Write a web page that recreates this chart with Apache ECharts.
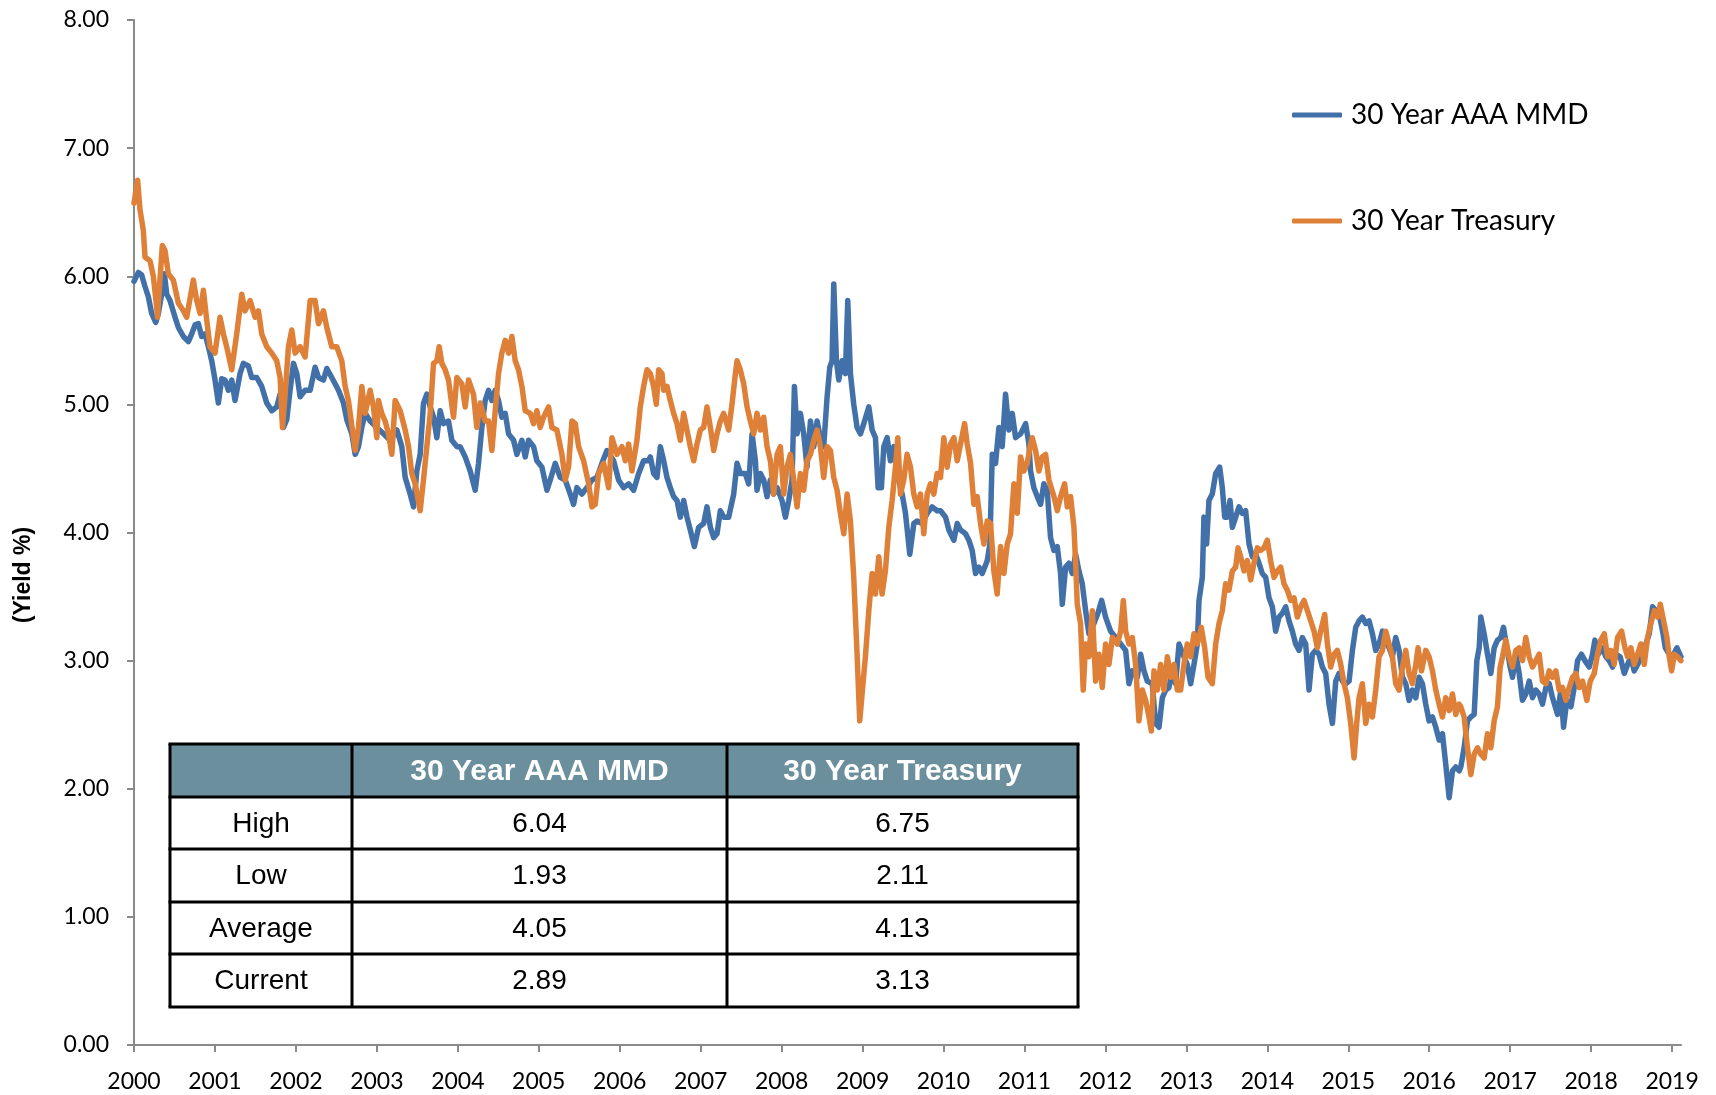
<!DOCTYPE html>
<html>

<head>
    <meta charset="utf-8">
    <title>30 Year AAA MMD vs 30 Year Treasury</title>
    <style>
        html, body { margin: 0; padding: 0; background: #fff; }
    </style>
</head>

<body>

    <div id="chart" style="width: 1716px;height: 1095px;"></div>

    <script src="https://cdn.jsdelivr.net/npm/echarts@6/dist/echarts.min.js"></script>
    <script>
        // series names
        const seriesNames = ['30 Year AAA MMD', '30 Year Treasury'];

        // x tick labels (years)
        const yearTicks = [2000, 2001, 2002, 2003, 2004, 2005, 2006, 2007, 2008, 2009,
            2010, 2011, 2012, 2013, 2014, 2015, 2016, 2017, 2018, 2019];

        // 30 Year AAA MMD, [year, yield %]
        const mmdData = [
            [2000.00, 5.96], [2000.054, 6.03], [2000.095, 6.01], [2000.136, 5.92], [2000.177, 5.84], [2000.218, 5.71], [2000.268, 5.64], [2000.301, 5.71], [2000.342, 5.86], [2000.375, 6.02], [2000.404, 5.86], [2000.445, 5.81], [2000.507, 5.68], [2000.548, 5.60], [2000.610, 5.53], [2000.672, 5.49], [2000.713, 5.55], [2000.754, 5.62], [2000.795, 5.63], [2000.836, 5.53], [2000.878, 5.55], [2000.919, 5.45], [2000.960, 5.34], [2001.001, 5.19], [2001.042, 5.01], [2001.084, 5.20], [2001.125, 5.19], [2001.166, 5.11], [2001.207, 5.19], [2001.248, 5.03], [2001.310, 5.24], [2001.351, 5.32], [2001.413, 5.30], [2001.454, 5.21], [2001.516, 5.21], [2001.578, 5.14], [2001.640, 5.01], [2001.702, 4.95], [2001.763, 4.98], [2001.805, 5.08], [2001.846, 4.82], [2001.887, 4.88], [2001.928, 5.11], [2001.970, 5.32], [2002.011, 5.24], [2002.052, 5.06], [2002.114, 5.11], [2002.176, 5.11], [2002.237, 5.29], [2002.279, 5.21], [2002.340, 5.19], [2002.382, 5.28], [2002.443, 5.21], [2002.526, 5.11], [2002.588, 5.01], [2002.629, 4.88], [2002.691, 4.77], [2002.732, 4.61], [2002.773, 4.67], [2002.814, 4.82], [2002.855, 4.93],
            [2002.917, 4.87], [2003.000, 4.82], [2003.082, 4.77], [2003.164, 4.72], [2003.247, 4.80], [2003.308, 4.67], [2003.350, 4.43], [2003.411, 4.30], [2003.453, 4.20], [2003.494, 4.48], [2003.535, 4.61], [2003.576, 5.01], [2003.617, 5.08], [2003.659, 4.98], [2003.700, 4.90], [2003.741, 4.74], [2003.782, 4.95], [2003.823, 4.85], [2003.885, 4.87], [2003.926, 4.72], [2003.988, 4.67], [2004.029, 4.67], [2004.091, 4.59], [2004.153, 4.48], [2004.215, 4.33], [2004.256, 4.54], [2004.297, 4.82], [2004.338, 5.03], [2004.380, 5.11], [2004.421, 5.03], [2004.462, 5.11], [2004.503, 5.03], [2004.544, 4.90], [2004.586, 4.93], [2004.627, 4.77], [2004.689, 4.72], [2004.730, 4.61], [2004.792, 4.72], [2004.833, 4.59], [2004.874, 4.72], [2004.936, 4.67], [2004.977, 4.56], [2005.039, 4.51], [2005.101, 4.33], [2005.142, 4.41], [2005.204, 4.54], [2005.265, 4.43], [2005.327, 4.41], [2005.389, 4.30], [2005.430, 4.22], [2005.471, 4.35], [2005.533, 4.30], [2005.595, 4.35], [2005.657, 4.41], [2005.719, 4.43], [2005.780, 4.54], [2005.842, 4.64], [2005.925, 4.56], [2005.986, 4.41], [2006.048, 4.35], [2006.110, 4.38], [2006.172, 4.33], [2006.234, 4.46], [2006.295, 4.56], [2006.357, 4.56],
            [2006.378, 4.59], [2006.419, 4.46], [2006.460, 4.43], [2006.502, 4.67], [2006.543, 4.56], [2006.584, 4.43], [2006.625, 4.35], [2006.666, 4.28], [2006.708, 4.25], [2006.749, 4.12], [2006.790, 4.25], [2006.831, 4.12], [2006.872, 4.02], [2006.922, 3.89], [2006.975, 4.04], [2007.037, 4.07], [2007.078, 4.20], [2007.120, 4.04], [2007.161, 3.96], [2007.202, 3.99], [2007.243, 4.17], [2007.284, 4.12], [2007.346, 4.12], [2007.408, 4.30], [2007.449, 4.54], [2007.490, 4.46], [2007.552, 4.46], [2007.593, 4.38], [2007.635, 4.77], [2007.676, 4.56], [2007.696, 4.33], [2007.738, 4.46], [2007.779, 4.41], [2007.820, 4.28], [2007.861, 4.41], [2007.902, 4.30], [2007.944, 4.35], [2008.005, 4.25], [2008.047, 4.12], [2008.088, 4.25], [2008.129, 4.41], [2008.158, 5.14], [2008.191, 4.77], [2008.232, 4.93], [2008.273, 4.77], [2008.314, 4.51], [2008.356, 4.87], [2008.397, 4.67], [2008.438, 4.87], [2008.479, 4.74], [2008.520, 4.67], [2008.562, 5.06], [2008.595, 5.29], [2008.623, 5.34], [2008.644, 5.94], [2008.677, 5.34], [2008.706, 5.19], [2008.747, 5.34], [2008.788, 5.24], [2008.817, 5.81], [2008.850, 5.24], [2008.891, 5.00], [2008.932, 4.82], [2008.974, 4.77], [2009.015, 4.85], [2009.077, 4.98], [2009.118, 4.80], [2009.159, 4.74], [2009.192, 4.35], [2009.233, 4.35], [2009.262, 4.67], [2009.303, 4.74], [2009.344, 4.56], [2009.386, 4.67], [2009.427, 4.46], [2009.489, 4.30], [2009.530, 4.15], [2009.583, 3.83], [2009.633, 4.07], [2009.674, 4.09], [2009.736, 4.07], [2009.798, 4.15], [2009.859, 4.20], [2009.921, 4.17],
            [2009.963, 4.17], [2010.025, 4.12], [2010.066, 4.02], [2010.128, 3.94], [2010.169, 4.07], [2010.210, 4.02], [2010.272, 3.99], [2010.313, 3.94], [2010.354, 3.86], [2010.396, 3.68], [2010.437, 3.73], [2010.478, 3.68], [2010.540, 3.78], [2010.573, 3.91], [2010.602, 4.61], [2010.643, 4.54], [2010.684, 4.82], [2010.725, 4.67], [2010.766, 5.08], [2010.808, 4.80], [2010.849, 4.93], [2010.890, 4.74], [2010.952, 4.77], [2011.014, 4.85], [2011.055, 4.69], [2011.075, 4.48], [2011.116, 4.35], [2011.158, 4.28], [2011.199, 4.22], [2011.240, 4.38], [2011.281, 4.33], [2011.322, 3.96], [2011.364, 3.86], [2011.405, 3.89], [2011.446, 3.68], [2011.467, 3.44], [2011.508, 3.73], [2011.549, 3.76], [2011.590, 3.68], [2011.632, 3.83], [2011.673, 3.70], [2011.714, 3.60], [2011.755, 3.39], [2011.796, 3.21], [2011.858, 3.29], [2011.907, 3.37], [2011.953, 3.47], [2012.002, 3.34], [2012.064, 3.23], [2012.126, 3.18], [2012.188, 3.13], [2012.250, 3.08], [2012.291, 2.82], [2012.332, 2.92], [2012.394, 2.87], [2012.435, 3.05], [2012.476, 2.92], [2012.517, 2.84], [2012.579, 2.82], [2012.620, 2.51], [2012.662, 2.48], [2012.703, 2.71], [2012.744, 2.77], [2012.785, 2.79], [2012.826, 2.92], [2012.867, 2.82], [2012.909, 3.13],
            [2012.929, 3.13], [2012.970, 3.03], [2013.011, 2.97], [2013.053, 2.82], [2013.094, 2.97], [2013.135, 3.13], [2013.156, 3.47], [2013.197, 3.65], [2013.217, 4.12], [2013.250, 3.91], [2013.279, 4.25], [2013.320, 4.30], [2013.362, 4.46], [2013.411, 4.51], [2013.444, 4.35], [2013.473, 4.12], [2013.506, 4.12], [2013.539, 4.25], [2013.568, 4.04], [2013.609, 4.12], [2013.650, 4.20], [2013.691, 4.15], [2013.732, 4.17], [2013.774, 3.91], [2013.815, 3.81], [2013.856, 3.83], [2013.897, 3.76], [2013.938, 3.68], [2013.980, 3.65], [2014.021, 3.49], [2014.062, 3.42], [2014.103, 3.23], [2014.144, 3.34], [2014.186, 3.37], [2014.227, 3.42], [2014.268, 3.31], [2014.309, 3.23], [2014.350, 3.13], [2014.392, 3.08], [2014.433, 3.18], [2014.474, 3.13], [2014.515, 2.77], [2014.556, 3.05], [2014.598, 3.08], [2014.639, 3.05], [2014.680, 2.95], [2014.721, 2.90], [2014.762, 2.66], [2014.804, 2.51], [2014.845, 2.84], [2014.886, 2.90], [2014.927, 2.84], [2014.968, 2.82], [2015.010, 2.84], [2015.051, 3.08], [2015.092, 3.26], [2015.133, 3.31], [2015.174, 3.34], [2015.216, 3.29], [2015.257, 3.31], [2015.298, 3.21], [2015.339, 3.08], [2015.380, 3.13], [2015.422, 3.23], [2015.463, 3.18], [2015.504, 3.10], [2015.545, 3.03], [2015.586, 3.18], [2015.628, 3.08], [2015.669, 2.87], [2015.710, 2.82], [2015.751, 2.69], [2015.792, 2.77], [2015.834, 2.71], [2015.875, 2.87], [2015.916, 2.82], [2015.957, 2.66], [2015.998, 2.53], [2016.040, 2.56], [2016.081, 2.48], [2016.122, 2.38], [2016.163, 2.43], [2016.204, 2.19], [2016.246, 1.93], [2016.287, 2.14], [2016.328, 2.17], [2016.369, 2.14],
            [2016.390, 2.17], [2016.431, 2.32], [2016.472, 2.53], [2016.514, 2.56], [2016.555, 2.58], [2016.588, 3.00], [2016.617, 3.10], [2016.637, 3.34], [2016.678, 3.21], [2016.720, 3.05], [2016.761, 2.90], [2016.802, 3.10], [2016.843, 3.16], [2016.884, 3.18], [2016.917, 3.26], [2016.959, 3.10], [2017.000, 2.95], [2017.029, 2.87], [2017.070, 3.05], [2017.111, 2.90], [2017.152, 2.69], [2017.193, 2.74], [2017.235, 2.84], [2017.276, 2.71], [2017.317, 2.77], [2017.358, 2.74], [2017.399, 2.66], [2017.441, 2.79], [2017.482, 2.82], [2017.523, 2.71], [2017.585, 2.58], [2017.626, 2.77], [2017.659, 2.48], [2017.700, 2.69], [2017.750, 2.64], [2017.791, 2.79], [2017.832, 3.00], [2017.881, 3.05], [2017.923, 3.00], [2017.976, 2.95], [2018.017, 3.05], [2018.046, 3.16], [2018.087, 3.05], [2018.141, 3.10], [2018.182, 3.03], [2018.223, 3.00], [2018.265, 2.95], [2018.306, 3.05], [2018.359, 3.03], [2018.409, 2.90], [2018.450, 2.97], [2018.491, 3.03], [2018.532, 2.92], [2018.574, 2.97], [2018.635, 3.05], [2018.677, 3.13], [2018.718, 3.21], [2018.759, 3.42], [2018.800, 3.39], [2018.841, 3.36], [2018.883, 3.23], [2018.916, 3.10], [2018.965, 3.05], [2019.006, 3.03], [2019.060, 3.10], [2019.109, 3.03]
        ];

        // 30 Year Treasury, [year, yield %]
        const tsyData = [
            [2000.00, 6.57], [2000.045, 6.75], [2000.074, 6.52], [2000.115, 6.36], [2000.136, 6.15], [2000.198, 6.12], [2000.239, 6.00], [2000.280, 5.76], [2000.290, 5.68], [2000.301, 5.79], [2000.350, 6.24], [2000.383, 6.20], [2000.424, 6.02], [2000.486, 5.97], [2000.548, 5.79], [2000.610, 5.73], [2000.651, 5.68], [2000.733, 5.97], [2000.775, 5.81], [2000.816, 5.71], [2000.857, 5.89], [2000.898, 5.66], [2000.939, 5.45], [2001.001, 5.40], [2001.063, 5.68], [2001.104, 5.55], [2001.145, 5.45], [2001.207, 5.27], [2001.269, 5.55], [2001.331, 5.86], [2001.372, 5.73], [2001.434, 5.81], [2001.496, 5.68], [2001.537, 5.73], [2001.578, 5.55], [2001.640, 5.45], [2001.702, 5.40], [2001.763, 5.34], [2001.805, 5.21], [2001.834, 4.82], [2001.867, 5.08], [2001.908, 5.45], [2001.949, 5.58], [2001.990, 5.40], [2002.052, 5.45], [2002.114, 5.37], [2002.176, 5.81], [2002.237, 5.81], [2002.279, 5.63], [2002.340, 5.73], [2002.382, 5.60], [2002.443, 5.45], [2002.505, 5.45], [2002.567, 5.34], [2002.608, 5.14], [2002.649, 5.03], [2002.732, 4.64], [2002.773, 4.82], [2002.814, 5.14], [2002.855, 4.93],
            [2002.917, 5.11], [2002.958, 4.98], [2003.000, 4.74], [2003.020, 5.03], [2003.061, 4.93], [2003.102, 4.87], [2003.144, 4.77], [2003.185, 4.61], [2003.226, 5.03], [2003.288, 4.95], [2003.350, 4.80], [2003.391, 4.67], [2003.432, 4.46], [2003.473, 4.38], [2003.535, 4.17], [2003.576, 4.41], [2003.617, 4.67], [2003.659, 4.93], [2003.700, 5.32], [2003.741, 5.34], [2003.770, 5.45], [2003.803, 5.32], [2003.844, 5.27], [2003.885, 5.19], [2003.947, 4.90], [2003.988, 5.21], [2004.050, 5.16], [2004.091, 4.98], [2004.132, 5.19], [2004.194, 5.08], [2004.235, 4.82], [2004.277, 5.01], [2004.338, 4.87], [2004.380, 4.87], [2004.421, 4.64], [2004.462, 4.95], [2004.503, 5.24], [2004.544, 5.40], [2004.586, 5.50], [2004.627, 5.40], [2004.668, 5.53], [2004.709, 5.34], [2004.750, 5.27], [2004.792, 5.14], [2004.833, 4.95], [2004.895, 4.93], [2004.936, 4.85], [2004.977, 4.95], [2005.018, 4.82], [2005.059, 4.90], [2005.121, 4.98], [2005.162, 4.82], [2005.224, 4.80], [2005.286, 4.61], [2005.327, 4.41], [2005.368, 4.51], [2005.410, 4.87], [2005.451, 4.85], [2005.492, 4.67], [2005.554, 4.56], [2005.616, 4.38], [2005.657, 4.20], [2005.698, 4.22], [2005.739, 4.46], [2005.801, 4.54], [2005.863, 4.35], [2005.904, 4.74], [2005.966, 4.61], [2006.027, 4.67], [2006.069, 4.56], [2006.110, 4.69], [2006.151, 4.48], [2006.213, 4.72], [2006.254, 4.98], [2006.295, 5.14], [2006.337, 5.27],
            [2006.378, 5.24], [2006.419, 5.14], [2006.452, 5.00], [2006.481, 5.27], [2006.522, 5.24], [2006.543, 5.11], [2006.584, 5.14], [2006.625, 5.03], [2006.666, 4.93], [2006.708, 4.85], [2006.749, 4.72], [2006.790, 4.93], [2006.831, 4.80], [2006.872, 4.67], [2006.914, 4.56], [2006.955, 4.69], [2006.996, 4.80], [2007.037, 4.82], [2007.078, 4.98], [2007.120, 4.82], [2007.161, 4.64], [2007.202, 4.77], [2007.243, 4.87], [2007.284, 4.93], [2007.346, 4.80], [2007.387, 5.00], [2007.429, 5.24], [2007.449, 5.34], [2007.490, 5.27], [2007.532, 5.16], [2007.573, 4.98], [2007.614, 4.87], [2007.655, 4.77], [2007.696, 4.93], [2007.738, 4.80], [2007.779, 4.90], [2007.820, 4.67], [2007.861, 4.56], [2007.902, 4.30], [2007.944, 4.61], [2007.985, 4.67], [2008.026, 4.30], [2008.067, 4.51], [2008.108, 4.61], [2008.150, 4.41], [2008.191, 4.20], [2008.232, 4.46], [2008.273, 4.33], [2008.314, 4.56], [2008.356, 4.61], [2008.397, 4.72], [2008.438, 4.80], [2008.479, 4.67], [2008.520, 4.43], [2008.562, 4.67], [2008.603, 4.64], [2008.644, 4.43], [2008.685, 4.33], [2008.726, 4.15], [2008.768, 3.99], [2008.809, 4.30], [2008.850, 4.09], [2008.891, 3.65], [2008.932, 3.05], [2008.965, 2.53], [2008.994, 2.74], [2009.035, 3.03], [2009.077, 3.39], [2009.118, 3.68], [2009.159, 3.52], [2009.200, 3.81], [2009.241, 3.52], [2009.282, 3.70], [2009.324, 4.04], [2009.365, 4.25], [2009.406, 4.51], [2009.435, 4.74], [2009.468, 4.30], [2009.509, 4.41], [2009.550, 4.61], [2009.592, 4.51], [2009.633, 4.30], [2009.674, 4.20], [2009.715, 4.30], [2009.756, 3.99], [2009.798, 4.30], [2009.839, 4.38], [2009.880, 4.30], [2009.921, 4.46],
            [2009.963, 4.43], [2010.004, 4.74], [2010.045, 4.51], [2010.087, 4.69], [2010.128, 4.74], [2010.169, 4.56], [2010.210, 4.69], [2010.260, 4.85], [2010.293, 4.69], [2010.334, 4.54], [2010.375, 4.22], [2010.416, 4.28], [2010.457, 4.07], [2010.499, 3.91], [2010.540, 4.09], [2010.581, 4.07], [2010.622, 3.70], [2010.663, 3.52], [2010.705, 3.89], [2010.746, 3.68], [2010.787, 3.91], [2010.828, 3.99], [2010.869, 4.38], [2010.911, 4.15], [2010.952, 4.59], [2010.993, 4.48], [2011.034, 4.54], [2011.075, 4.69], [2011.096, 4.74], [2011.137, 4.64], [2011.178, 4.48], [2011.220, 4.59], [2011.261, 4.61], [2011.302, 4.41], [2011.364, 4.28], [2011.405, 4.17], [2011.446, 4.28], [2011.496, 4.38], [2011.529, 4.20], [2011.570, 4.28], [2011.611, 4.04], [2011.632, 3.76], [2011.652, 3.44], [2011.693, 3.29], [2011.726, 2.77], [2011.755, 3.13], [2011.796, 3.03], [2011.838, 3.39], [2011.879, 2.84], [2011.920, 3.05], [2011.961, 2.79], [2012.002, 3.13], [2012.044, 2.97], [2012.085, 3.18], [2012.147, 3.13], [2012.188, 3.23], [2012.221, 3.47], [2012.250, 3.23], [2012.291, 3.13], [2012.332, 3.18], [2012.373, 2.97], [2012.414, 2.53], [2012.456, 2.77], [2012.497, 2.69], [2012.538, 2.56], [2012.567, 2.45], [2012.600, 2.92], [2012.641, 2.77], [2012.682, 2.97], [2012.723, 2.77], [2012.765, 3.03], [2012.806, 2.87], [2012.847, 2.97], [2012.888, 2.77],
            [2012.929, 2.77], [2012.970, 2.97], [2013.011, 3.13], [2013.053, 3.03], [2013.094, 3.21], [2013.135, 3.13], [2013.184, 3.26], [2013.226, 3.10], [2013.267, 2.87], [2013.320, 2.82], [2013.362, 3.13], [2013.403, 3.29], [2013.444, 3.39], [2013.485, 3.60], [2013.526, 3.55], [2013.568, 3.70], [2013.609, 3.73], [2013.638, 3.88], [2013.671, 3.81], [2013.712, 3.70], [2013.753, 3.78], [2013.794, 3.63], [2013.835, 3.76], [2013.877, 3.88], [2013.918, 3.86], [2013.959, 3.88], [2014.000, 3.94], [2014.041, 3.78], [2014.083, 3.65], [2014.124, 3.70], [2014.165, 3.73], [2014.206, 3.60], [2014.247, 3.55], [2014.289, 3.47], [2014.330, 3.49], [2014.371, 3.34], [2014.412, 3.42], [2014.453, 3.47], [2014.495, 3.39], [2014.536, 3.31], [2014.577, 3.23], [2014.618, 3.10], [2014.659, 3.23], [2014.709, 3.36], [2014.742, 3.13], [2014.783, 2.95], [2014.824, 3.05], [2014.865, 3.08], [2014.907, 2.97], [2014.948, 2.82], [2014.989, 2.71], [2015.030, 2.51], [2015.071, 2.24], [2015.104, 2.51], [2015.133, 2.71], [2015.174, 2.82], [2015.216, 2.51], [2015.257, 2.66], [2015.298, 2.56], [2015.339, 2.77], [2015.380, 3.03], [2015.422, 3.08], [2015.463, 3.23], [2015.504, 3.13], [2015.545, 3.03], [2015.586, 2.82], [2015.628, 2.77], [2015.669, 2.95], [2015.710, 3.08], [2015.751, 2.90], [2015.792, 2.82], [2015.834, 2.97], [2015.862, 3.10], [2015.904, 2.92], [2015.957, 3.08], [2015.998, 3.03], [2016.040, 2.92], [2016.081, 2.77], [2016.122, 2.66], [2016.163, 2.56], [2016.204, 2.71], [2016.246, 2.61], [2016.287, 2.74], [2016.328, 2.58], [2016.369, 2.66],
            [2016.390, 2.64], [2016.431, 2.56], [2016.472, 2.32], [2016.514, 2.11], [2016.555, 2.27], [2016.596, 2.32], [2016.637, 2.27], [2016.678, 2.24], [2016.720, 2.43], [2016.761, 2.32], [2016.802, 2.53], [2016.843, 2.64], [2016.876, 2.95], [2016.905, 3.03], [2016.946, 3.16], [2016.987, 3.03], [2017.029, 2.95], [2017.070, 3.08], [2017.111, 3.10], [2017.152, 3.00], [2017.193, 3.18], [2017.235, 3.03], [2017.276, 2.95], [2017.317, 3.00], [2017.358, 3.05], [2017.399, 2.84], [2017.441, 2.82], [2017.482, 2.92], [2017.523, 2.87], [2017.564, 2.92], [2017.605, 2.77], [2017.647, 2.79], [2017.688, 2.69], [2017.729, 2.79], [2017.770, 2.87], [2017.811, 2.90], [2017.853, 2.79], [2017.894, 2.84], [2017.947, 2.69], [2017.989, 2.84], [2018.038, 2.90], [2018.079, 3.05], [2018.120, 3.16], [2018.162, 3.21], [2018.203, 3.03], [2018.244, 3.08], [2018.285, 2.97], [2018.326, 3.18], [2018.376, 3.23], [2018.417, 3.10], [2018.450, 3.03], [2018.491, 3.10], [2018.532, 2.97], [2018.574, 3.05], [2018.615, 3.13], [2018.656, 2.97], [2018.697, 3.18], [2018.738, 3.29], [2018.780, 3.39], [2018.821, 3.34], [2018.854, 3.44], [2018.895, 3.31], [2018.936, 3.18], [2018.965, 3.03], [2018.994, 2.92], [2019.027, 3.05], [2019.068, 3.03], [2019.109, 3.00]
        ];

        // summary table
        const tableHeader = ['', '30 Year AAA MMD', '30 Year Treasury'];
        const statNames = ['High', 'Low', 'Average', 'Current'];
        const mmdStats = ['6.04', '1.93', '4.05', '2.89'];
        const tsyStats = ['6.75', '2.11', '4.13', '3.13'];

        const colors = ['#4270A8', '#DE8038'];

        const chart = echarts.init(document.getElementById('chart'));

        // table layout (pixels)
        const colX = [170, 352, 727, 1078];
        const rowY = [744, 797, 849, 902, 954, 1007];

        var tableEls = [];
        // header background + body background
        tableEls.push({
            type: 'rect',
            shape: { x: colX[0], y: rowY[0], width: colX[3] - colX[0], height: rowY[1] - rowY[0] },
            style: { fill: '#6B8F9C' }
        });
        tableEls.push({
            type: 'rect',
            shape: { x: colX[0], y: rowY[1], width: colX[3] - colX[0], height: rowY[5] - rowY[1] },
            style: { fill: '#fff' }
        });
        // grid lines
        rowY.forEach(y => {
            tableEls.push({
                type: 'line',
                shape: { x1: colX[0] - 1.5, y1: y, x2: colX[3] + 1.5, y2: y },
                style: { stroke: '#000', lineWidth: 3 }
            });
        });
        colX.forEach(x => {
            tableEls.push({
                type: 'line',
                shape: { x1: x, y1: rowY[0], x2: x, y2: rowY[5] },
                style: { stroke: '#000', lineWidth: 3 }
            });
        });
        // header texts
        tableHeader.forEach((t, i) => {
            if (!t) return;
            tableEls.push({
                type: 'text',
                x: (colX[i] + colX[i + 1]) / 2,
                y: (rowY[0] + rowY[1]) / 2 + 1,
                style: {
                    text: t, fill: '#fff', fontSize: 30, fontWeight: 'bold',
                    fontFamily: 'Liberation Sans', align: 'center', verticalAlign: 'middle'
                }
            });
        });
        // body texts
        statNames.forEach((name, r) => {
            const cy = (rowY[r + 1] + rowY[r + 2]) / 2 + 1;
            [name, mmdStats[r], tsyStats[r]].forEach((t, c) => {
                tableEls.push({
                    type: 'text',
                    x: (colX[c] + colX[c + 1]) / 2,
                    y: cy,
                    style: {
                        text: t, fill: '#000', fontSize: 28,
                        fontFamily: 'Liberation Sans', align: 'center', verticalAlign: 'middle'
                    }
                });
            });
        });

        const option = {
            animation: false,
            backgroundColor: '#fff',
            grid: { left: 134, right: 35, top: 20, bottom: 50, containLabel: false },
            legend: {
                orient: 'vertical',
                left: 1287,
                top: 95,
                icon: 'roundRect',
                itemWidth: 50,
                itemHeight: 5,
                itemGap: 76,
                textStyle: { fontFamily: 'Lato', fontSize: 28, color: '#000', lineHeight: 30, padding: [0, 0, 0, 4] },
                data: seriesNames.map((n, i) => ({ name: n, itemStyle: { color: colors[i] } }))
            },
            xAxis: {
                type: 'value',
                min: 2000,
                max: 2019.11,
                splitLine: { show: false },
                axisLine: { lineStyle: { color: '#8a8a8a', width: 2 } },
                axisTick: { show: true, length: 7, lineStyle: { color: '#8a8a8a', width: 2 }, customValues: yearTicks },
                axisLabel: {
                    customValues: yearTicks,
                    margin: 25,
                    color: '#000',
                    fontFamily: 'Lato',
                    fontSize: 23,
                    formatter: v => String(Math.round(v))
                }
            },
            yAxis: {
                type: 'value',
                min: 0,
                max: 8,
                interval: 1,
                splitLine: { show: false },
                axisLine: { show: true, lineStyle: { color: '#8a8a8a', width: 2 } },
                axisTick: { show: true, length: 7, lineStyle: { color: '#8a8a8a', width: 2 } },
                axisLabel: {
                    margin: 25,
                    color: '#000',
                    fontFamily: 'Lato',
                    fontSize: 23,
                    formatter: v => v.toFixed(2)
                }
            },
            series: [{
                name: seriesNames[0],
                type: 'line',
                symbol: 'none',
                showSymbol: false,
                lineStyle: { color: colors[0], width: 5.5, join: 'round', cap: 'round' },
                itemStyle: { color: colors[0] },
                data: mmdData
            }, {
                name: seriesNames[1],
                type: 'line',
                symbol: 'none',
                showSymbol: false,
                lineStyle: { color: colors[1], width: 5.5, join: 'round', cap: 'round' },
                itemStyle: { color: colors[1] },
                data: tsyData
            }],
            graphic: [{
                type: 'text',
                x: 24,
                y: 575,
                rotation: Math.PI / 2,
                style: {
                    text: '(Yield %)', fill: '#000', fontSize: 23, fontWeight: 'bold',
                    fontFamily: 'Liberation Sans', align: 'center', verticalAlign: 'middle'
                }
            }, {
                type: 'group',
                z: 100,
                children: tableEls
            }]
        };

        chart.setOption(option);
    </script>

</body>

</html>
